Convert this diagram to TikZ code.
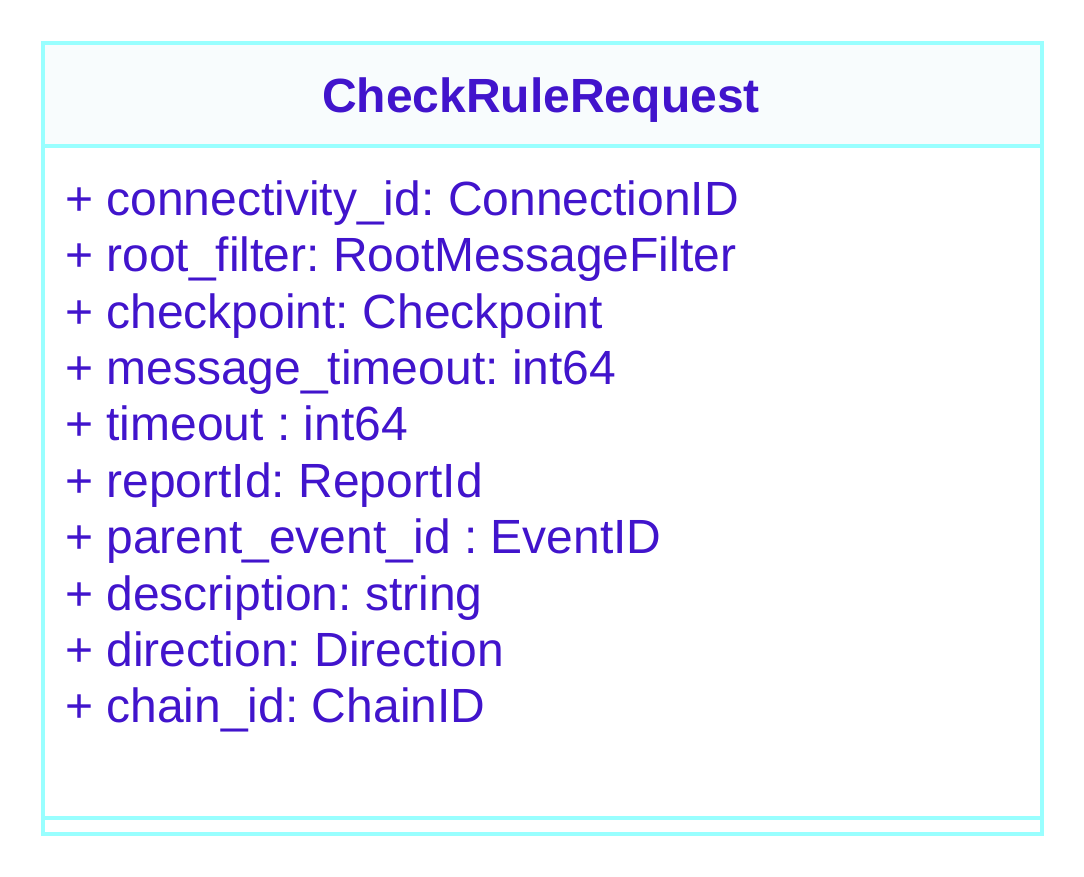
\documentclass[tikz,border=0pt]{standalone}
\usepackage{fontspec}
\setmainfont{Liberation Sans}
\usepackage{tikz}
\usetikzlibrary{positioning}
\usepackage{xcolor}
\frenchspacing
\definecolor{umlborder}{RGB}{153,255,255}
\definecolor{umlheader}{RGB}{248,252,253}
\definecolor{umltext}{RGB}{65,20,204}
\tikzset{
  classframe/.style={draw=umlborder, line width=4pt},
  classtitle/.style={
    inner sep=0pt, anchor=base,
    font=\fontsize{48}{56}\selectfont\bfseries, text=umltext
  },
  attr/.style={
    inner sep=0pt, anchor=north west,
    text height=36pt, text depth=20pt,
    font=\fontsize{48}{56}\selectfont, text=umltext
  },
}
\begin{document}
\begin{tikzpicture}[x=1pt, y=-1pt]

  \useasboundingbox (0,0) rectangle (1084,876);

  % Class frame
  \coordinate (nw) at (43,43);
  \coordinate (se) at (1042,834);
  \fill[umlheader] (nw) rectangle (1042,146);
  \draw[classframe] (43,146) -- (1042,146);
  \draw[classframe] (43,818) -- (1042,818);
  \draw[classframe] (nw) rectangle (se);

  % Class name
  \node[classtitle] (title) at (541,112) {CheckRuleRequest};

  % Attributes
  \node[attr] (attr1) at (65,179) {+ connectivity\_id: ConnectionID};
  \node[attr, below=0pt of attr1.south west, anchor=north west] (attr2) {+ root\_filter: RootMessageFilter};
  \node[attr, below=0pt of attr2.south west, anchor=north west] (attr3) {+ checkpoint: Checkpoint};
  \node[attr, below=0pt of attr3.south west, anchor=north west] (attr4) {+ message\_timeout: int64};
  \node[attr, below=0pt of attr4.south west, anchor=north west] (attr5) {+ timeout : int64};
  \node[attr, below=0pt of attr5.south west, anchor=north west] (attr6) {+ reportId: ReportId};
  \node[attr, below=0pt of attr6.south west, anchor=north west] (attr7) {+ parent\_event\_id : EventID};
  \node[attr, below=0pt of attr7.south west, anchor=north west] (attr8) {+ description: string};
  \node[attr, below=0pt of attr8.south west, anchor=north west] (attr9) {+ direction: Direction};
  \node[attr, below=0pt of attr9.south west, anchor=north west] (attr10) {+ chain\_id: ChainID};

\end{tikzpicture}
\end{document}
